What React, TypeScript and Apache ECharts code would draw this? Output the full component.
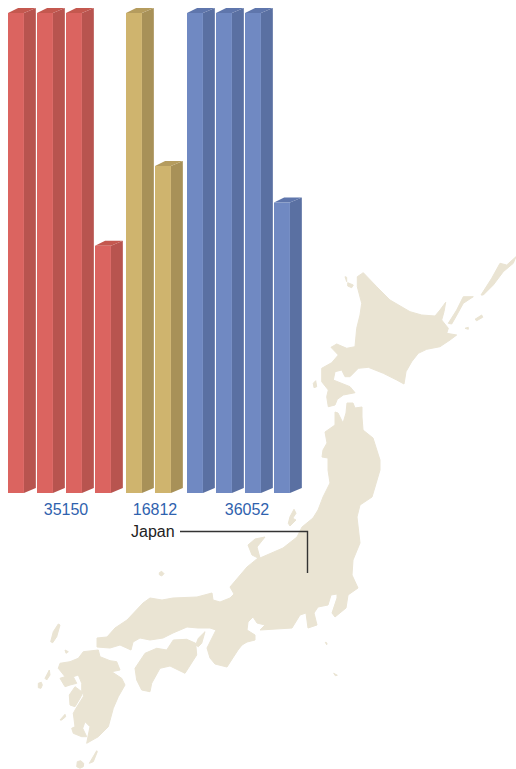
import React, { useEffect, useRef } from "react";
import * as echarts from "echarts";

// Data: each pillar holds up to 10000 units; a group's pillars add up to its total.
const FULL = 10000;
const groupNames = ["35150", "16812", "36052"];
const redValues = [10000, 10000, 10000, 5150];
const goldValues = [10000, 6812];
const blueValues = [10000, 10000, 10000, 6052];
const calloutLabel = "Japan";

const redTones = { front: "#DB6460", side: "#B8544F", top: "#C4584F" };
const goldTones = { front: "#CFB46E", side: "#A89158", top: "#B59C5E" };
const blueTones = { front: "#7089C2", side: "#5A70A2", top: "#5F76AC" };

const ring = (x0: number, y0: number, s: number, pts: number[][]) =>
  "M" + pts.map(([x, y]) => `${(x0 + x / s).toFixed(1)} ${(y0 + y / s).toFixed(1)}`).join("L") + "Z";

const mapPath = [
  // Hokkaido
  ring(300, 240, 3, [[190,98],[230,140],[270,180],[330,215],[365,225],[405,228],[420,210],[437,187],[432,215],[425,240],[445,265],[440,280],[470,285],[450,300],[420,320],[380,328],[355,340],[335,365],[318,395],[312,432],[290,420],[250,400],[205,382],[175,385],[150,410],[135,410],[125,390],[105,395],[100,420],[120,428],[150,440],[165,458],[130,465],[112,478],[105,495],[85,500],[80,470],[85,450],[65,425],[65,385],[95,368],[115,345],[93,322],[110,312],[140,325],[165,320],[170,265],[180,225],[185,190],[172,140],[172,110]]),
  ring(300, 240, 3, [[445,250],[470,210],[490,170],[520,170],[490,190],[465,235],[455,252]]),
  ring(300, 240, 3, [[543,165],[575,115],[600,70],[620,75],[648,50],[640,70],[610,95],[580,135],[550,165]]),
  ring(300, 240, 3, [[525,238],[545,225],[548,232],[530,242]]),
  ring(300, 240, 3, [[495,265],[505,262],[505,268]]),
  ring(300, 240, 3, [[143,128],[160,135],[155,143],[143,138]]),
  ring(300, 240, 3, [[135,110],[140,112],[140,125]]),
  ring(300, 240, 3, [[40,430],[47,422],[50,440],[42,443]]),
  // Honshu
  ring(0, 0, 1, [[335,412],[338,413],[343,423],[346,413],[347,403],[353,403],[355,408],[362,407],[362,417],[363,430],[373,438],[380,460],[380,470],[375,487],[372,497],[360,505],[357,517],[360,543],[353,560],[352,575],[358,588],[348,595],[346,608],[335,617],[332,613],[337,598],[337,594],[331,595],[328,605],[318,607],[314,613],[317,625],[308,628],[306,613],[300,615],[292,628],[260,630],[265,625],[257,623],[253,617],[248,622],[247,630],[255,635],[255,640],[247,642],[242,645],[238,650],[227,667],[215,664],[210,658],[207,648],[216,630],[210,628],[198,628],[187,627],[173,633],[163,638],[150,640],[140,638],[133,642],[131,650],[120,645],[110,648],[97,647],[97,638],[107,637],[115,628],[127,620],[143,603],[150,598],[162,600],[173,598],[197,597],[212,593],[213,600],[220,602],[230,598],[234,594],[230,587],[247,567],[258,558],[252,555],[248,545],[255,539],[265,537],[257,547],[260,558],[283,548],[297,537],[302,527],[313,518],[318,510],[323,497],[330,483],[328,470],[328,458],[322,457],[323,450],[327,443],[325,432],[335,425]]),
  // Shikoku
  ring(30, 560, 3, [[315,325],[345,280],[380,265],[410,270],[430,240],[470,238],[497,250],[500,285],[465,340],[420,318],[390,325],[365,370],[360,395],[335,390],[320,360]]),
  // Awaji
  ring(130, 590, 3, [[197,165],[205,145],[225,125],[215,160],[205,170]]),
  // Kyushu
  ring(40, 620, 3, [[130,95],[175,90],[180,110],[210,122],[230,125],[240,150],[215,155],[245,175],[255,195],[235,230],[220,265],[205,320],[175,350],[140,370],[145,345],[150,320],[135,305],[128,325],[140,350],[125,350],[100,340],[95,325],[105,320],[100,280],[108,265],[130,230],[130,215],[120,235],[105,260],[90,255],[88,225],[105,200],[125,215],[125,190],[115,165],[100,170],[110,190],[90,195],[75,200],[60,175],[75,170],[55,145],[60,130],[90,125],[115,115]]),
  // small islands
  ring(40, 620, 3, [[15,175],[28,150],[30,165],[20,180]]),
  ring(40, 620, 3, [[-5,190],[4,187],[7,195],[3,205],[-5,203]]),
  ring(40, 620, 3, [[75,90],[85,95],[78,100]]),
  ring(40, 620, 3, [[32,65],[40,35],[55,12],[60,15],[50,50],[38,68]]),
  ring(40, 620, 3, [[148,430],[170,392],[172,395],[160,425]]),
  ring(40, 620, 3, [[112,425],[122,422],[131,430],[130,440],[120,445],[110,440]]),
  ring(40, 620, 3, [[60,300],[75,283],[77,290],[65,300]]),
  ring(30, 560, 3, [[388,38],[395,34],[402,41],[395,48],[388,44]]),
  ring(220, 480, 3, [[205,130],[210,110],[222,88],[228,100],[218,115],[228,120],[210,138]]),
  ring(30, 560, 3, [[886,247],[891,249],[890,254]]),
  ring(30, 560, 3, [[911,340],[922,346],[916,347]]),
].join("");

echarts.graphic.registerShape("japanMap", echarts.graphic.extendPath(mapPath as any, {}) as any);

const pillarSeries = (index: number, values: number[], tones: typeof redTones) => ({
  type: "custom",
  xAxisIndex: index,
  yAxisIndex: index,
  z: 5,
  silent: true,
  encode: { x: 0, y: 1 },
  data: values.map((v, i) => [i, v]),
  renderItem: (_: any, api: any) => {
    const band = api.size([1, 0])[0];
    const [cx, top] = api.coord([api.value(0), api.value(1)]);
    const [, base] = api.coord([api.value(0), 0]);
    const left = cx - band / 2;
    const w = band * 0.55;
    const d = band * 0.41;
    const rise = 5;
    const right = left + w;
    return {
      type: "group",
      children: [
        { type: "polygon", shape: { points: [[right, top], [right + d, top - rise], [right + d, base - rise], [right, base]] }, style: { fill: tones.side } },
        { type: "polygon", shape: { points: [[left, top], [right, top], [right + d, top - rise], [left + d * 0.85, top - rise]] }, style: { fill: tones.top } },
        { type: "rect", shape: { x: left, y: top, width: w, height: base - top }, style: { fill: tones.front } },
      ],
    };
  },
});

const valueAxis = (gridIndex: number) => ({
  type: "value",
  gridIndex,
  min: 0,
  max: FULL,
  show: false,
});

const catAxis = (gridIndex: number, values: number[], name: string, nudge: number) => ({
  type: "category",
  gridIndex,
  data: values.map((_, i) => String(i + 1)),
  axisLine: { show: false },
  axisTick: { show: false },
  axisLabel: { show: false },
  splitLine: { show: false },
  name,
  nameLocation: "middle",
  nameGap: 8,
  nameTextStyle: {
    color: "#2F62AE",
    fontSize: 16,
    fontFamily: "Liberation Sans",
    padding: [0, 0, 0, nudge],
  },
});

export default function App() {
  const ref = useRef<HTMLDivElement>(null);
  useEffect(() => {
    const chart = echarts.init(ref.current!, null, { renderer: "svg" });
    chart.setOption({
      animation: false,
      backgroundColor: "#ffffff",
      grid: [
        { left: 8, top: 13, width: 116, height: 480 },
        { left: 126, top: 13, width: 58, height: 480 },
        { left: 187, top: 13, width: 116, height: 480 },
      ],
      xAxis: [
        catAxis(0, redValues, groupNames[0], 0),
        catAxis(1, goldValues, groupNames[1], 0),
        catAxis(2, blueValues, groupNames[2], 4),
      ],
      yAxis: [valueAxis(0), valueAxis(1), valueAxis(2)],
      series: [
        pillarSeries(0, redValues, redTones),
        pillarSeries(1, goldValues, goldTones),
        pillarSeries(2, blueValues, blueTones),
      ],
      graphic: [
        {
          type: "japanMap",
          x: 0,
          y: 0,
          z: 0,
          silent: true,
          style: { fill: "#EAE4D3", stroke: "#EAE4D3", lineWidth: 1, lineJoin: "round" },
        },
        {
          type: "polyline",
          z: 10,
          silent: true,
          shape: { points: [[180, 531.5], [307.5, 531.5], [307.5, 573]] },
          style: { stroke: "#333333", lineWidth: 1.4, fill: "none" },
        },
        {
          type: "text",
          z: 10,
          x: 131,
          y: 531,
          style: {
            text: calloutLabel,
            fill: "#222222",
            font: "16px 'Liberation Sans'",
            verticalAlign: "middle",
          },
        },
      ],
    });
    return () => chart.dispose();
  }, []);
  return <div ref={ref} style={{ position: "absolute", left: 0, top: 0, width: 516, height: 769 }} />;
}
